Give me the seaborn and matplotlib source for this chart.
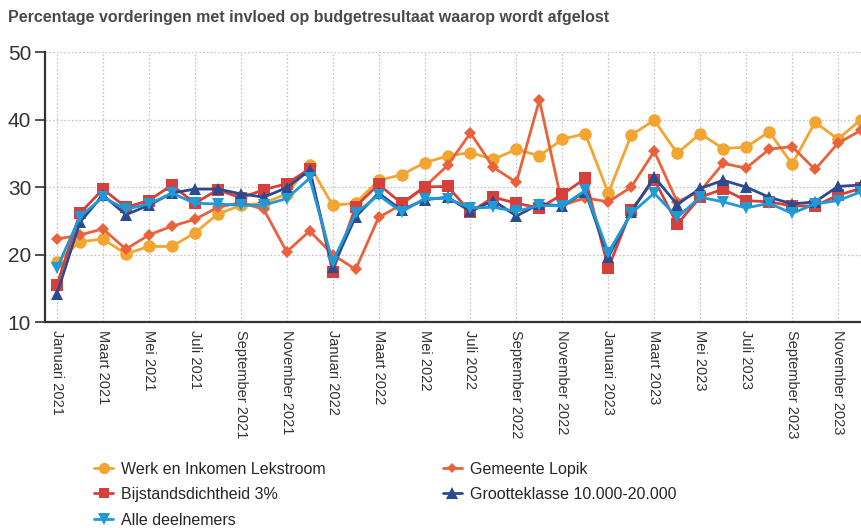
import matplotlib
matplotlib.use("Agg")
import matplotlib.pyplot as plt
import seaborn as sns
import pandas as pd
import numpy as np

# Months Jan 2021 .. Dec 2023
month_names = ["Januari", "Februari", "Maart", "April", "Mei", "Juni", "Juli",
               "Augustus", "September", "Oktober", "November", "December"]
months = [f"{m} {y}" for y in (2021, 2022, 2023) for m in month_names]

werk_lekstroom = [18.9, 21.9, 22.3, 20.1, 21.2, 21.2, 23.2, 26.0, 27.3, 27.6, 29.0, 33.2,
                  27.3, 27.6, 31.0, 31.8, 33.6, 34.6, 35.1, 34.1, 35.6, 34.6, 37.1, 37.9,
                  29.1, 37.7, 39.9, 35.0, 37.9, 35.7, 35.9, 38.2, 33.4, 39.6, 37.1, 40.0]
gemeente_lopik = [22.3, 22.9, 23.8, 20.8, 22.9, 24.2, 25.2, 27.0, 27.7, 26.7, 20.4, 23.5,
                  20.0, 17.8, 25.5, 27.4, 30.0, 33.2, 38.0, 32.9, 30.7, 42.9, 27.3, 28.4,
                  27.8, 30.0, 35.3, 27.8, 29.4, 33.5, 32.8, 35.6, 36.0, 32.6, 36.5, 38.4]
bijstand_3 = [15.5, 26.1, 29.7, 27.0, 28.0, 30.3, 27.6, 29.6, 28.4, 29.6, 30.5, 32.7,
              17.4, 27.1, 30.4, 27.6, 30.0, 30.1, 26.3, 28.5, 27.6, 26.9, 28.9, 31.3,
              18.0, 26.6, 31.1, 24.5, 28.5, 29.7, 28.0, 27.8, 27.2, 27.2, 28.8, 29.8]
grootteklasse = [14.2, 24.8, 28.8, 25.9, 27.3, 29.1, 29.7, 29.7, 29.0, 28.5, 29.9, 32.5,
                 18.1, 25.6, 29.1, 26.6, 28.1, 28.5, 26.4, 28.0, 25.7, 27.5, 27.2, 29.3,
                 19.6, 26.3, 31.5, 27.4, 29.8, 31.0, 30.0, 28.5, 27.5, 27.8, 30.1, 30.3]
alle_deelnemers = [18.0, 25.6, 28.5, 26.7, 27.5, 29.1, 27.6, 27.5, 27.3, 27.3, 28.3, 31.3,
                   18.9, 26.1, 28.8, 26.3, 28.3, 28.3, 26.9, 27.0, 26.4, 27.3, 27.2, 29.5,
                   20.3, 26.1, 29.1, 25.5, 28.5, 27.8, 26.9, 27.6, 26.1, 27.5, 28.0, 29.3]

series = {
    "Werk en Inkomen Lekstroom": werk_lekstroom,
    "Gemeente Lopik": gemeente_lopik,
    "Bijstandsdichtheid 3%": bijstand_3,
    "Grootteklasse 10.000-20.000": grootteklasse,
    "Alle deelnemers": alle_deelnemers,
}
colors = {
    "Werk en Inkomen Lekstroom": "#F3A532",
    "Gemeente Lopik": "#E9623C",
    "Bijstandsdichtheid 3%": "#D7403A",
    "Grootteklasse 10.000-20.000": "#2C4A8E",
    "Alle deelnemers": "#1F9AD6",
}
markers = {
    "Werk en Inkomen Lekstroom": "o",
    "Gemeente Lopik": "D",
    "Bijstandsdichtheid 3%": "s",
    "Grootteklasse 10.000-20.000": "^",
    "Alle deelnemers": "v",
}
msizes = {
    "Werk en Inkomen Lekstroom": 9,
    "Gemeente Lopik": 6,
    "Bijstandsdichtheid 3%": 8.5,
    "Grootteklasse 10.000-20.000": 9,
    "Alle deelnemers": 9,
}

frames = []
for name, vals in series.items():
    frames.append(pd.DataFrame({"idx": np.arange(len(months)), "value": vals, "serie": name}))
df = pd.concat(frames, ignore_index=True)

sns.set_style("white")
plt.rcParams["font.family"] = ["Liberation Sans", "DejaVu Sans"]

fig = plt.figure(figsize=(8.61, 5.28), dpi=100)
ax = fig.add_axes([0.0523, 0.39, 0.9477, 0.5115])

for name in series:
    sub = df[df["serie"] == name]
    sns.lineplot(data=sub, x="idx", y="value", ax=ax, color=colors[name],
                 marker=markers[name], markersize=msizes[name], markeredgewidth=0,
                 linewidth=2, label=name, legend=False)

ax.set_xlim(-0.52, 35.0)
ax.set_ylim(10, 50)
ax.set_yticks([10, 20, 30, 40, 50])
tick_pos = list(range(0, len(months), 2))
ax.set_xticks(tick_pos)
ax.set_xticklabels([months[i] for i in tick_pos], rotation=270, fontsize=10.5,
                   color="#333333", va="top", ha="center")
ax.tick_params(axis="y", labelsize=15, colors="#333333", length=7, width=1.2,
               direction="out", left=True, pad=3)
ax.tick_params(axis="x", length=0, pad=6)
ax.set_xlabel("")
ax.set_ylabel("")

ax.grid(True, color="#c8c8c8", linestyle=(0, (1.5, 1.5)), linewidth=0.9)
for side in ["top", "right"]:
    ax.spines[side].set_visible(False)
for side in ["left", "bottom"]:
    ax.spines[side].set_color("#333333")
    ax.spines[side].set_linewidth(1.6)

fig.text(0.009, 0.967, "Percentage vorderingen met invloed op budgetresultaat waarop wordt afgelost",
         fontsize=11.5, fontweight="bold", color="#4a4a4a", va="center", ha="left")

order = ["Werk en Inkomen Lekstroom", "Bijstandsdichtheid 3%", "Alle deelnemers",
         "Gemeente Lopik", "Grootteklasse 10.000-20.000"]
handles, labels = ax.get_legend_handles_labels()
hmap = dict(zip(labels, handles))
fig.legend([hmap[n] for n in order], order, ncol=2, loc="upper left",
           bbox_to_anchor=(0.102, 0.138), frameon=False, fontsize=11.5,
           handlelength=1.2, columnspacing=7.3, labelspacing=0.66,
           markerscale=0.9, handletextpad=0.5, borderaxespad=0)

fig.savefig("out.png", dpi=100)
